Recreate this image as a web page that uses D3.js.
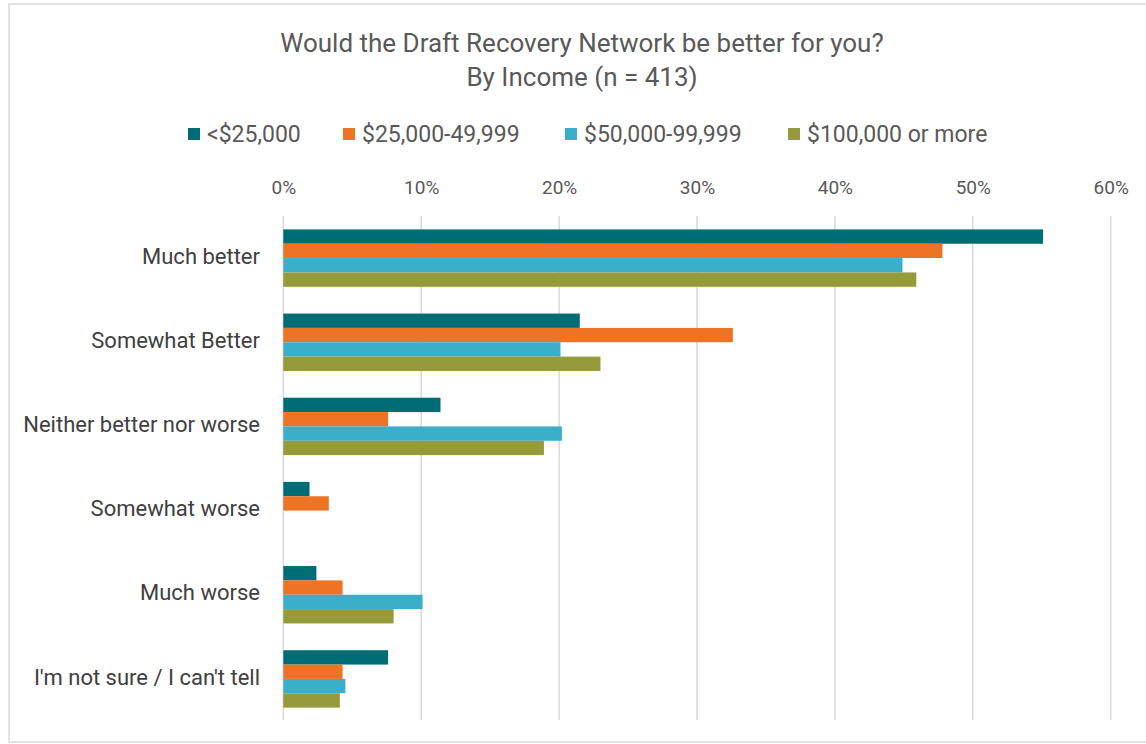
<!DOCTYPE html>
<html>
<head>
<meta charset="utf-8">
<script src="https://cdn.jsdelivr.net/npm/d3@7"></script>
<style>
  html, body { margin: 0; padding: 0; background: #ffffff; }
  svg { display: block; }
  text { font-family: "Roboto", "Liberation Sans", sans-serif; fill: #595959; }
</style>
</head>
<body>
<svg id="chart" width="1146" height="744"></svg>
<script>
// Survey answers (top to bottom)
const categories = [
  "Much better",
  "Somewhat Better",
  "Neither better nor worse",
  "Somewhat worse",
  "Much worse",
  "I'm not sure / I can't tell"
];

// Income groups
const seriesNames = ["<$25,000", "$25,000-49,999", "$50,000-99,999", "$100,000 or more"];
const seriesColors = ["#006d75", "#ee7425", "#3bafca", "#959a3a"];

// Share of respondents per answer, one array per income group
const under25k      = [0.551, 0.215, 0.114, 0.019, 0.024, 0.076];
const from25to50k   = [0.478, 0.326, 0.076, 0.033, 0.043, 0.043];
const from50to100k  = [0.449, 0.201, 0.202, 0.000, 0.101, 0.045];
const over100k      = [0.459, 0.230, 0.189, 0.000, 0.080, 0.041];

const seriesValues = [under25k, from25to50k, from50to100k, over100k];

const xTicks = [0, 0.1, 0.2, 0.3, 0.4, 0.5, 0.6];

const svg = d3.select("#chart");
const W = 1146, H = 744;

// Outer frame
svg.append("rect")
  .attr("x", 9).attr("y", 4)
  .attr("width", W + 10).attr("height", 738)
  .attr("fill", "#ffffff")
  .attr("stroke", "#e3e3e3").attr("stroke-width", 2);

// Scales
const x = d3.scaleLinear().domain([0, 0.6]).range([283.3, 1110.7]);
const y = d3.scaleBand().domain(categories).range([216, 721])
  .paddingInner(0.318).paddingOuter(0.159);
const ySub = d3.scaleBand().domain(seriesNames).range([0, y.bandwidth()]);

// Title
svg.append("text")
  .attr("x", 582).attr("y", 52)
  .attr("text-anchor", "middle")
  .style("font-size", "26px")
  .text("Would the Draft Recovery Network be better for you?");
svg.append("text")
  .attr("x", 582).attr("y", 86)
  .attr("text-anchor", "middle")
  .style("font-size", "26px")
  .text("By Income (n = 413)");

// Legend
const legendX = [188, 343, 565, 788];
const legend = svg.append("g");
seriesNames.forEach((name, i) => {
  const g = legend.append("g").attr("transform", `translate(${legendX[i]},134)`);
  g.append("rect").attr("x", 0).attr("y", -6).attr("width", 12).attr("height", 12)
    .attr("fill", seriesColors[i]);
  g.append("text").attr("x", 19).attr("y", 0).attr("dy", "0.35em")
    .style("font-size", "23px").style("fill", "#595959")
    .text(name);
});

// Top axis with vertical gridlines
const axis = d3.axisTop(x).tickValues(xTicks).tickFormat(d3.format(".0%")).tickSize(0).tickPadding(0);
const axisG = svg.append("g").attr("transform", "translate(0,194)").call(axis);
axisG.select(".domain").remove();
axisG.selectAll("text")
  .style("font-size", "19px").style("fill", "#595959")
  .style("font-family", "\"Roboto\", sans-serif");

svg.append("g").selectAll("line")
  .data(xTicks)
  .join("line")
  .attr("x1", d => x(d)).attr("x2", d => x(d))
  .attr("y1", 216).attr("y2", 720)
  .attr("stroke", "#d9d9d9").attr("stroke-width", 1.5);

// Bars
const groups = svg.append("g").selectAll("g")
  .data(categories)
  .join("g")
  .attr("transform", d => `translate(0,${y(d)})`);

groups.selectAll("rect")
  .data((c, ci) => seriesNames.map((s, si) => ({ s, si, v: seriesValues[si][ci] })))
  .join("rect")
  .filter(d => d.v > 0)
  .attr("x", x(0))
  .attr("y", d => ySub(d.s))
  .attr("width", d => x(d.v) - x(0))
  .attr("height", ySub.bandwidth())
  .attr("fill", d => seriesColors[d.si]);

// Category labels
svg.append("g").selectAll("text")
  .data(categories)
  .join("text")
  .attr("x", 260)
  .attr("y", d => y(d) + y.bandwidth() / 2 - 2)
  .attr("dy", "0.35em")
  .attr("text-anchor", "end")
  .style("font-size", "22px").style("fill", "#404040")
  .text(d => d);
</script>
</body>
</html>
